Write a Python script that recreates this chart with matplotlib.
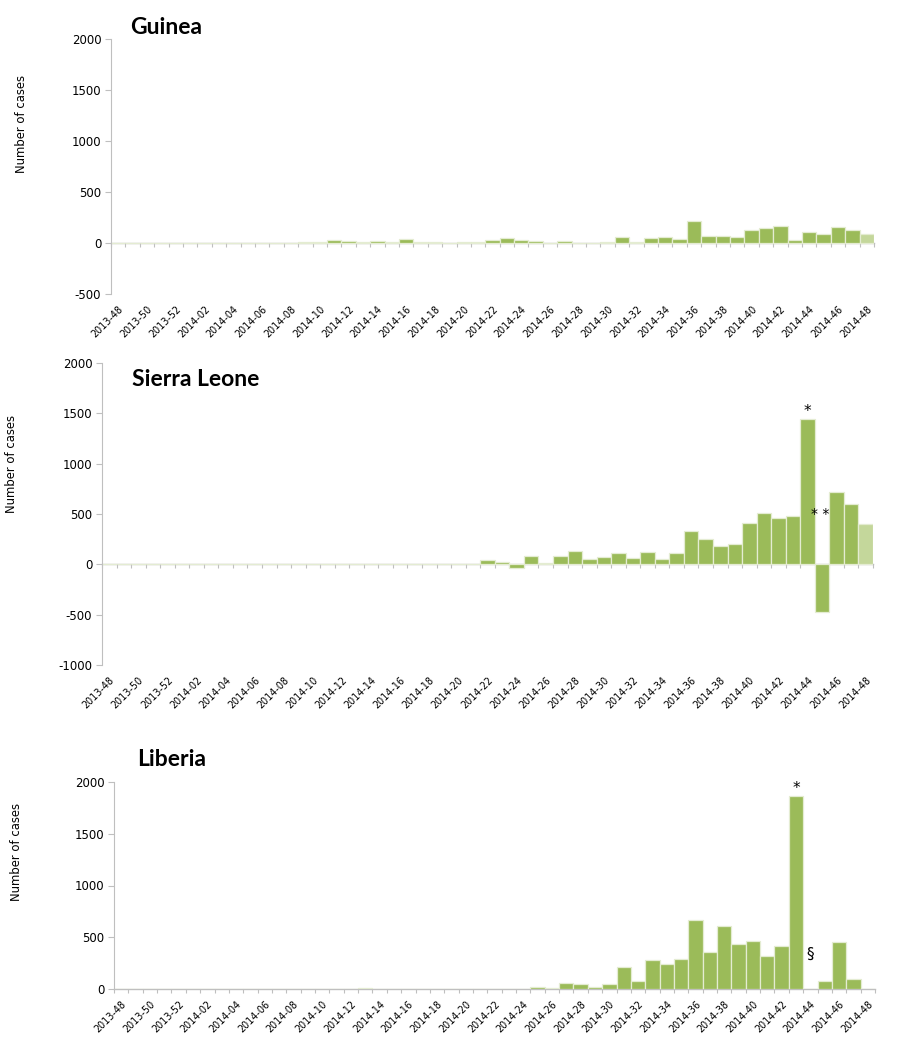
import matplotlib
matplotlib.use("Agg")
import matplotlib.pyplot as plt
import numpy as np

plt.rcParams["axes.unicode_minus"] = False

weeks = [f"2013-{w}" for w in range(48, 53)] + [f"2014-{w:02d}" for w in range(1, 49)]

guinea = [0, 0, 0, 0, 0, 0, 0, 0, 0, 0, 0, 0, 0,
          10, 5, 33, 16, 8, 23, 8, 42, 8, 8, 3, 6, 6, 33, 52, 29, 20,
          0, 20, 0, 0, 10, 56, 5, 46, 62, 39, 212, 72, 65, 62, 127,
          147, 163, 33, 108, 85, 154, 127, 85]
sierra_leone = [0] * 26 + [43, 23, -36, 86, 13, 86, 133, 53, 76, 113, 63, 126,
                           56, 110, 332, 252, 186, 203, 412, 508, 458, 481,
                           1444, -471, 720, 601, 402]
liberia = [0] * 17 + [10] + [0] * 11 + [16, 6, 58, 48, 16, 48, 216, 80, 277,
                                        238, 290, 663, 354, 605, 431, 460, 322,
                                        412, 1868, 0, 80, 451, 97, 0]

GREEN = "#9BBB59"
LIGHT = "#C4D79B"
EDGE = "#E4ECD2"
GREY = "#BFBFBF"

fig = plt.figure(figsize=(9.1, 10.6), dpi=100)

panels = [
    ("Guinea", guinea, (-500, 2000), [111, 874, 39, 294], (130, 27), -0.109, 0.667, True),
    ("Sierra Leone", sierra_leone, (-1000, 2000), [102, 873, 363, 665], (132, 379), -0.109, 0.666, True),
    ("Liberia", liberia, (0, 2000), [114, 875, 782, 989], (137, 759), -0.119, 0.662, False),
]

W, H = 910, 1060
axes = []
for name, vals, ylim, (x0, x1, y0, y1), (tx, ty), lx, ly, light_last in panels:
    ax = fig.add_axes([x0 / W, 1 - y1 / H, (x1 - x0) / W, (y1 - y0) / H])
    axes.append(ax)
    n = len(vals)
    x = np.arange(n)
    colors = [GREEN] * n
    if light_last:
        colors[-1] = LIGHT
    ax.bar(x, vals, width=1.0, color=colors, edgecolor=EDGE, linewidth=0.9, zorder=2)
    ax.set_xlim(-0.5, n - 0.5)
    ax.set_ylim(*ylim)
    ax.set_yticks(np.arange(ylim[0], ylim[1] + 1, 500))
    for s in ["top", "right", "bottom"]:
        ax.spines[s].set_visible(False)
    ax.spines["left"].set_color(GREY)
    ax.tick_params(axis="y", direction="out", length=4, color=GREY, labelsize=8.5, pad=3)
    ax.set_xticks(x[::2])
    ax.set_xticklabels(weeks[::2], rotation=45, ha="right", va="top",
                       rotation_mode="anchor", fontsize=6.9)
    ax.tick_params(axis="x", length=0, pad=7)
    # zero line with category tick marks
    loc = (0 - ylim[0]) / (ylim[1] - ylim[0])
    sec = ax.secondary_xaxis(loc)
    sec.set_xticks(np.arange(-0.5, n, 1.0))
    sec.set_xticklabels([])
    sec.tick_params(axis="x", direction="out", length=3, color=GREY)
    sec.spines["bottom"].set_color(GREY)
    sec.spines["bottom"].set_linewidth(1.0)
    ax.set_ylabel("Number of cases", fontsize=8.4)
    ax.yaxis.set_label_coords(lx, ly)
    fig.text(tx / W, 1 - ty / H, name, fontsize=16.5, fontweight="bold",
             family=["Lato", "DejaVu Sans"], ha="left", va="center")

# annotations
ax_g, ax_s, ax_l = axes
ax_s.annotate("*", xy=(48, sierra_leone[48]), xytext=(0, 0), textcoords="offset points",
              ha="center", va="bottom", fontsize=11)
ax_s.text(48.9, 500, "* *", ha="center", va="center", fontsize=10)
ax_l.annotate("*", xy=(47, liberia[47]), xytext=(0, 0), textcoords="offset points",
              ha="center", va="bottom", fontsize=11)
ax_l.text(48, 340, "§", ha="center", va="center", fontsize=11)

fig.savefig("out.png", dpi=100)
